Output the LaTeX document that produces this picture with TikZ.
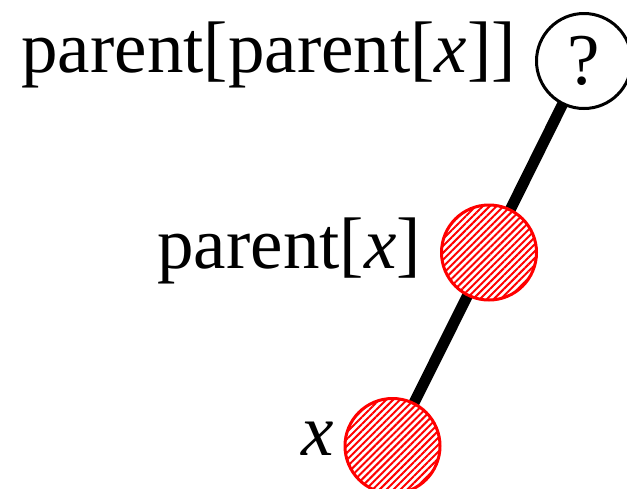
\documentclass[tikz,border=0pt]{standalone}
\usepackage{fontspec}
\setmainfont{Liberation Serif}
\usetikzlibrary{patterns.meta,backgrounds}
\begin{document}
\begin{tikzpicture}[x=1pt,y=-1pt,
  lbl/.style={anchor=base east,inner sep=0pt,font=\fontsize{73}{80}\selectfont},
  vnode/.style={circle,minimum size=95pt,inner sep=0pt,line width=3pt},
  whitenode/.style={vnode,draw=black,fill=white,font=\fontsize{73}{80}\selectfont},
  rednode/.style={vnode,draw=red,fill=white,
    postaction={pattern={Lines[angle=45,distance=4.9pt,line width=2pt]},pattern color=red}},
  link/.style={line width=11pt,black}]
\useasboundingbox (0,0) rectangle (627,488);
\node[whitenode] (g) at (584,61) {?};
\node[rednode] (p) at (489,252.5) {};
\node[rednode] (x) at (392.5,446) {};
\node[lbl] (gl) at (516,72) {parent[parent[\textit{x}]]};
\node[lbl] (pl) at (421,268) {parent[\textit{x}]};
\node[lbl] (xl) at (334,455) {\textit{x}};
\begin{scope}[on background layer]
\draw[link] (g.center) -- (p.center) -- (x.center);
\end{scope}
\end{tikzpicture}
\end{document}
